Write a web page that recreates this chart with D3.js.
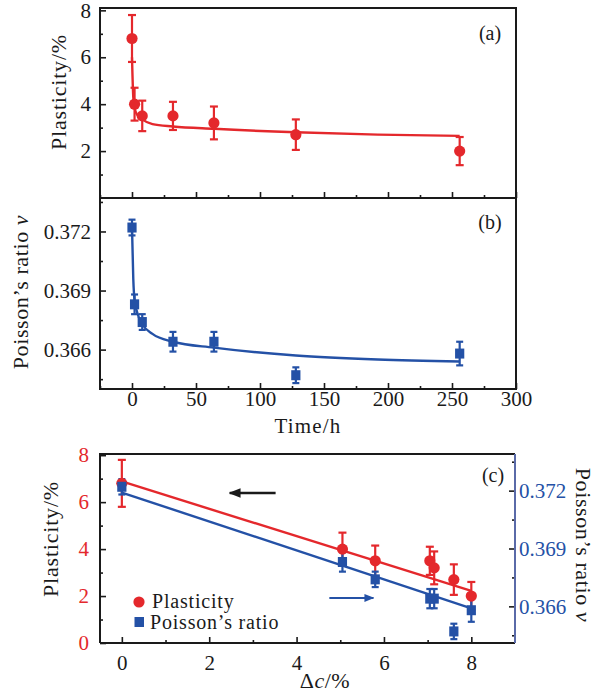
<!DOCTYPE html>
<html>
<head>
<meta charset="utf-8">
<script src="https://cdn.jsdelivr.net/npm/d3@7"></script>
<style>
  body { margin: 0; background: #fff; }
  svg { display: block; font-family: "Liberation Serif", "Times New Roman", serif; }
</style>
</head>
<body>
<svg id="chart" width="603" height="693"></svg>
<script>
const hours        = [0, 2, 8, 32, 64, 128, 256];
const deltaC       = [0, 5.05, 5.8, 7.05, 7.15, 7.6, 8.0];
const plasticity   = [6.8, 4.0, 3.5, 3.5, 3.2, 2.7, 2.0];
const plasticErr   = [1.0, 0.7, 0.65, 0.6, 0.7, 0.65, 0.6];
const poisson      = [0.3722, 0.3683, 0.3674, 0.3664, 0.3664, 0.3647, 0.3658];
const poissonErr   = [0.0004, 0.0005, 0.0004, 0.0005, 0.0005, 0.0004, 0.0006];

// fitted curves, sampled from the figure
const fitHours     = [0, 1, 2, 4, 8, 16, 32, 64, 128, 192, 256];
const fitPlastic   = [6.0, 4.3, 3.85, 3.55, 3.35, 3.15, 3.05, 2.95, 2.8, 2.7, 2.65];
const fitPoisson   = [0.3722, 0.3696, 0.3685, 0.3679, 0.3673, 0.3668, 0.3664, 0.3661, 0.3657, 0.3655, 0.3654];
const fitDc        = [0, 8];
const fitPlasticC  = [6.88, 2.22];
const fitPoissonC  = [0.3719, 0.3659];

// tick values
const timeTicks    = [0, 50, 100, 150, 200, 250, 300];
const timeMinor    = [-25, 25, 75, 125, 175, 225, 275];
const plastTicks   = [2, 4, 6, 8];
const plastMinor   = [1, 3, 5, 7];
const plastTicksC  = [0, 2, 4, 6, 8];
const poisTicks    = [0.366, 0.369, 0.372];
const poisMinor    = [0.3645, 0.3675, 0.3705, 0.3735];
const dcTicks      = [0, 2, 4, 6, 8];
const dcMinor      = [1, 3, 5, 7];

// annotation arrows in data units of panel (c): [x from, x to, y (plasticity)]
const arrowLeft    = [3.52, 2.47, 6.39];
const arrowRight   = [4.75, 5.76, 1.92];

const red  = "#e4282c";
const blue = "#2451a6";
const ink  = "#1a1a1a";
const FS   = 21;

const svg = d3.select("#chart");
const defs = svg.append("defs");
[["headK", ink], ["headB", blue]].forEach(([id, c]) => {
  defs.append("marker").attr("id", id)
    .attr("viewBox", "0 0 10 10").attr("refX", 9).attr("refY", 5)
    .attr("markerWidth", 5).attr("markerHeight", 5).attr("orient", "auto")
    .append("path").attr("d", "M0,1 L10,5 L0,9 Z").attr("fill", c);
});

const xTime   = d3.scaleLinear().domain([-25, 300]).range([100, 516]);
const yPlast  = d3.scaleLinear().domain([0, 8.1]).range([198, 8]);
const yPois   = d3.scaleLinear().domain([0.3640, 0.3737]).range([389, 198]);
const xDc     = d3.scaleLinear().domain([-0.5, 9]).range([100, 515]);
const yPlastC = d3.scaleLinear().domain([0, 8.05]).range([643, 454]);
const yPoisC  = d3.scaleLinear().domain([0.3641, 0.3739]).range([643, 454]);

// axis helper: inward ticks, major with labels + minor without
function drawAxis(gen, scale, major, minor, fmt, tx, ty, color, pad) {
  const gm = svg.append("g").attr("transform", `translate(${tx},${ty})`);
  gm.call(gen(scale).tickValues(minor).tickSize(-3).tickFormat(""));
  const g = svg.append("g").attr("transform", `translate(${tx},${ty})`);
  g.call(gen(scale).tickValues(major).tickSize(-6).tickPadding(pad).tickFormat(fmt));
  [gm, g].forEach(s => {
    s.select(".domain").remove();
    s.selectAll("line").attr("stroke", ink).attr("stroke-width", 1.6);
  });
  g.selectAll("text")
    .attr("font-size", FS)
    .attr("font-family", "Liberation Serif, serif")
    .attr("fill", color || ink);
  return g;
}

function frame(x0, y0, x1, y1) {
  svg.append("rect").attr("x", x0).attr("y", y0)
    .attr("width", x1 - x0).attr("height", y1 - y0)
    .attr("fill", "none").attr("stroke", ink).attr("stroke-width", 2);
}

function fitLine(xs, ys, xs_, ys_, color, curve) {
  svg.append("path")
    .datum(xs.map((x, i) => [x, ys[i]]))
    .attr("fill", "none").attr("stroke", color).attr("stroke-width", 2.4)
    .attr("d", d3.line().x(d => xs_(d[0])).y(d => ys_(d[1])).curve(curve || d3.curveLinear));
}

function errBars(xs, ys, es, sx, sy, color, cap) {
  const g = svg.append("g").attr("stroke", color).attr("stroke-width", 2.2);
  xs.forEach((x, i) => {
    const cx = sx(x), t = sy(ys[i] + es[i]), b = sy(ys[i] - es[i]);
    g.append("line").attr("x1", cx).attr("x2", cx).attr("y1", t).attr("y2", b);
    g.append("line").attr("x1", cx - cap).attr("x2", cx + cap).attr("y1", t).attr("y2", t);
    g.append("line").attr("x1", cx - cap).attr("x2", cx + cap).attr("y1", b).attr("y2", b);
  });
}

function circles(xs, ys, sx, sy) {
  svg.append("g").selectAll("circle").data(xs).join("circle")
    .attr("cx", d => sx(d)).attr("cy", (d, i) => sy(ys[i]))
    .attr("r", 5.6).attr("fill", red);
}

function squares(xs, ys, sx, sy) {
  svg.append("g").selectAll("rect").data(xs).join("rect")
    .attr("x", d => sx(d) - 4.6).attr("y", (d, i) => sy(ys[i]) - 5)
    .attr("width", 9.2).attr("height", 10).attr("fill", blue);
}

function label(x, y, text, opts = {}) {
  const t = svg.append("text").attr("x", x).attr("y", y)
    .attr("font-size", opts.size || FS)
    .attr("fill", opts.color || ink)
    .attr("letter-spacing", opts.ls || 0)
    .attr("text-anchor", opts.anchor || "middle");
  if (opts.rotate) t.attr("transform", `rotate(${opts.rotate},${x},${y})`);
  if (opts.html) t.html(text); else t.text(text);
  return t;
}

const fmt0 = d3.format("d");
const fmt3 = d3.format(".3f");

// ---------- panel (a) ----------
fitLine(fitHours, fitPlastic, xTime, yPlast, red, d3.curveMonotoneX);
errBars(hours, plasticity, plasticErr, xTime, yPlast, red, 4);
circles(hours, plasticity, xTime, yPlast);
drawAxis(d3.axisLeft, yPlast, plastTicks, plastMinor, fmt0, 100, 0, ink, 9);
drawAxis(d3.axisBottom, xTime, timeTicks, timeMinor, "", 0, 198, ink, 0);
frame(100, 8, 516, 198);
label(490, 40, "(a)", { size: 20 });
label(66, 92, "Plasticity/%", { rotate: -90, size: 22, ls: 0.8 });

// ---------- panel (b) ----------
fitLine(fitHours, fitPoisson, xTime, yPois, blue, d3.curveMonotoneX);
errBars(hours, poisson, poissonErr, xTime, yPois, blue, 3.5);
squares(hours, poisson, xTime, yPois);
drawAxis(d3.axisLeft, yPois, poisTicks, poisMinor, fmt3, 100, 0, ink, 9);
drawAxis(d3.axisBottom, xTime, timeTicks, timeMinor, fmt0, 0, 389, ink, 2);
frame(100, 198, 516, 389);
label(490, 229, "(b)", { size: 20 });
label(28, 292, "Poisson’s ratio <tspan font-style='italic'>ν</tspan>", { rotate: -90, size: 22, html: true, ls: 0.6 });
label(308, 433, "Time/h", { size: 21, ls: 1.2 });

// ---------- panel (c) ----------
fitLine(fitDc, fitPlasticC, xDc, yPlastC, red);
fitLine(fitDc, fitPoissonC, xDc, yPoisC, blue);
errBars(deltaC, plasticity, plasticErr, xDc, yPlastC, red, 4);
errBars(deltaC, poisson, poissonErr, xDc, yPoisC, blue, 3.5);
circles(deltaC, plasticity, xDc, yPlastC);
squares(deltaC, poisson, xDc, yPoisC);

drawAxis(d3.axisLeft, yPlastC, plastTicksC, plastMinor, fmt0, 100, 0, red, 11);
drawAxis(d3.axisRight, yPoisC, poisTicks, poisMinor, fmt3, 515, 0, blue, 4);
drawAxis(d3.axisBottom, xDc, dcTicks, dcMinor, fmt0, 0, 643, ink, 12);
svg.append("path")
  .attr("d", "M100,643 V454 H515").attr("fill", "none")
  .attr("stroke", ink).attr("stroke-width", 2);
svg.append("path")
  .attr("d", "M100,643 H515").attr("fill", "none")
  .attr("stroke", ink).attr("stroke-width", 2);
svg.append("line").attr("x1", 515).attr("x2", 515).attr("y1", 454).attr("y2", 643)
  .attr("stroke", "#5a6aa8").attr("stroke-width", 2);

// arrows
svg.append("line")
  .attr("x1", xDc(arrowLeft[0])).attr("x2", xDc(arrowLeft[1]))
  .attr("y1", yPlastC(arrowLeft[2])).attr("y2", yPlastC(arrowLeft[2]))
  .attr("stroke", ink).attr("stroke-width", 2.4).attr("marker-end", "url(#headK)");
svg.append("line")
  .attr("x1", xDc(arrowRight[0])).attr("x2", xDc(arrowRight[1]))
  .attr("y1", yPlastC(arrowRight[2])).attr("y2", yPlastC(arrowRight[2]))
  .attr("stroke", blue).attr("stroke-width", 2).attr("marker-end", "url(#headB)");

// legend
svg.append("circle").attr("cx", 139).attr("cy", 602).attr("r", 5.6).attr("fill", red);
svg.append("rect").attr("x", 134.5).attr("y", 617).attr("width", 9.5).attr("height", 10).attr("fill", blue);
label(152, 608, "Plasticity", { anchor: "start", size: 20, ls: 0.8 });
label(150, 629, "Poisson’s ratio", { anchor: "start", size: 20, ls: 0.8 });

label(493, 482, "(c)", { size: 20 });
label(58, 539, "Plasticity/%", { rotate: -90, size: 22, ls: 0.8 });
label(576, 545, "Poisson’s ratio <tspan font-style='italic'>ν</tspan>", { rotate: 90, size: 22, html: true, ls: 0.6 });
label(325, 688, "Δ<tspan font-style='italic'>c</tspan>/%", { size: 22, html: true, ls: 0.5 });
</script>
</body>
</html>
